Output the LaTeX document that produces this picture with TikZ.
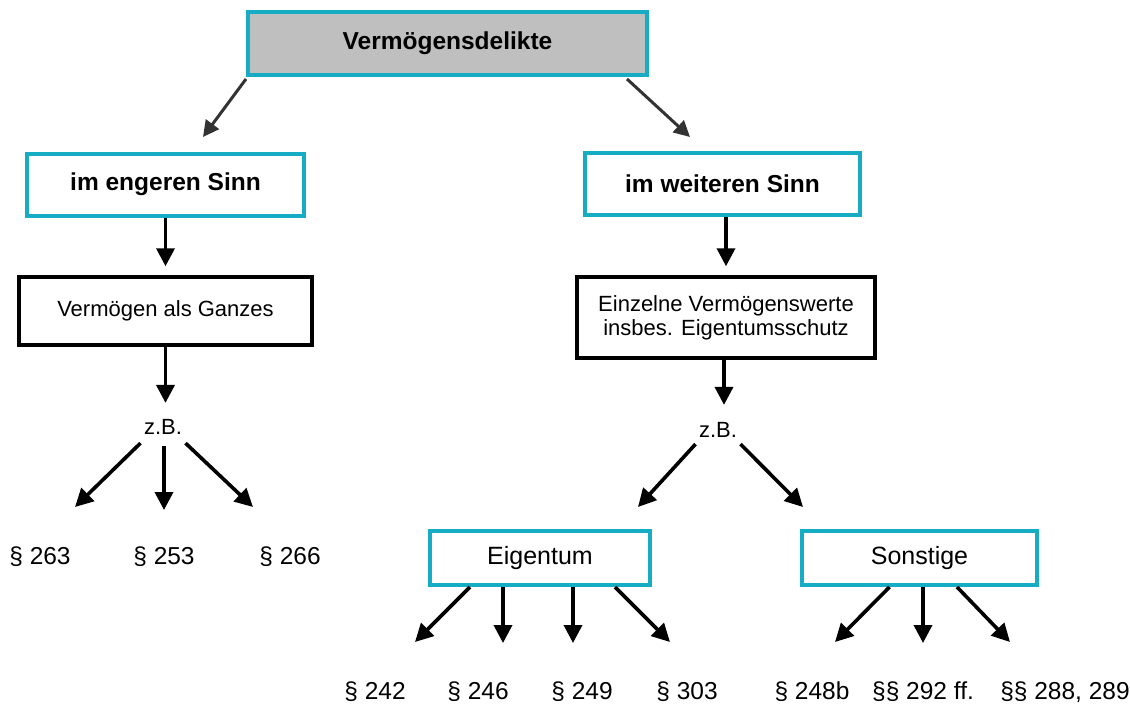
\documentclass[tikz,border=0pt]{standalone}
\usepackage{fontspec}
\setmainfont{Liberation Sans}
\usetikzlibrary{arrows.meta, positioning, calc}
\definecolor{rahmen}{RGB}{22,172,196}
\definecolor{kopfgrau}{RGB}{191,191,191}

\begin{document}
\begin{tikzpicture}[
    x=1pt, y=-1pt,
    kopf/.style={draw=rahmen, line width=4pt, fill=kopfgrau, minimum width=399pt, minimum height=63pt, font=\fontsize{24.5}{29}\selectfont\bfseries},
    sinn/.style={draw=rahmen, line width=4pt, minimum height=62pt, font=\fontsize{24.5}{29}\selectfont\bfseries},
    inhalt/.style={draw, line width=3.5pt, align=center, font=\fontsize{22}{24}\selectfont},
    gruppe/.style={draw=rahmen, line width=4pt, minimum height=54pt, font=\fontsize{25}{29}\selectfont},
    para/.style={font=\fontsize{24.5}{29}\selectfont},
    zb/.style={font=\fontsize{22}{26}\selectfont},
    arrow/.style={-{Triangle[length=18pt,width=18pt]}, line width=3.6pt},
    toparrow/.style={-{Triangle[length=16pt,width=16pt]}, line width=3pt, draw=black!80}
]
    \useasboundingbox (0,0) rectangle (1130,704);

    \node[kopf] (delikte) at (447.5,43.5) {Vermögensdelikte};
    \node[sinn, minimum width=277pt] (engeren) at (165.5,184.5) {im engeren Sinn};
    \node[sinn, minimum width=275pt] (weiteren) at (722.5,184) {im weiteren Sinn};

    \coordinate (tipeng) at (203,137);
    \coordinate (tipwei) at (690,137);
    \draw[toparrow] ([yshift=-2pt]delikte.south west) -- (tipeng);
    \draw[toparrow] ([xshift=-22pt,yshift=-2pt]delikte.south east) -- (tipwei);

    % linker Ast
    \node[inhalt, minimum width=293pt, minimum height=68pt] (ganzes) at (165.5,311) {Vermögen als Ganzes};
    \node[zb] (zbl) at (163,427) {z.B.};
    \draw[arrow, shorten >=9pt] (engeren) -- (ganzes);
    \draw[arrow, shorten >=13pt] (ganzes.south) -- (ganzes.south |- zbl.north);

    \node[para] (p263) at (40,557) {§ 263};
    \node[para] (p253) at (164,557) {§ 253};
    \node[para] (p266) at (290,557) {§ 266};
    \coordinate (t263) at (75,507);
    \coordinate (t253) at (164,510);
    \coordinate (t266) at (253,507);
    \draw[arrow] ([yshift=-5pt]zbl.south west) -- (t263);
    \draw[arrow] ([xshift=1pt,yshift=-8pt]zbl.south) -- (t253);
    \draw[arrow] ([yshift=-5pt]zbl.south east) -- (t266);

    % rechter Ast
    \node[inhalt, minimum width=298pt, minimum height=81pt] (einzeln) at (726,317.5) {Einzelne Vermögenswerte\\insbes. Eigentumsschutz};
    \node[zb] (zbr) at (718,430) {z.B.};
    \draw[arrow, shorten >=9pt] (einzeln.north |- weiteren.south) -- (einzeln.north);
    \draw[arrow, shorten >=14pt] ([xshift=-2pt]einzeln.south) -- ([xshift=-2pt]einzeln.south |- zbr.north);

    \node[gruppe, minimum width=220pt] (eigentum) at (540,558) {Eigentum};
    \node[gruppe, minimum width=235pt] (sonstige) at (919.5,558) {Sonstige};
    \coordinate (teig) at (638,507);
    \coordinate (tson) at (803,507);
    \draw[arrow] ([yshift=-3pt]zbr.south west) -- (teig);
    \draw[arrow] ([yshift=-3pt]zbr.south east) -- (tson);

    \node[para] (p242) at (375,692) {§ 242};
    \node[para] (p246) at (478,692) {§ 246};
    \node[para] (p249) at (582,692) {§ 249};
    \node[para] (p303) at (687,692) {§ 303};
    \coordinate (t242) at (415,642);
    \coordinate (t246) at (503,643);
    \coordinate (t249) at (573,643);
    \coordinate (t303) at (670,642);
    \draw[arrow] ([xshift=-70pt]eigentum.south) -- (t242);
    \draw[arrow] ([xshift=-37pt]eigentum.south) -- (t246);
    \draw[arrow] ([xshift=33pt]eigentum.south) -- (t249);
    \draw[arrow] ([xshift=75pt]eigentum.south) -- (t303);

    \node[para] (p248b) at (812,692) {§ 248b};
    \node[para] (p292) at (923,692) {§§ 292 ff.};
    \node[para] (p288) at (1065,692) {§§ 288, 289};
    \coordinate (t248b) at (835,642);
    \coordinate (t292) at (923,643);
    \coordinate (t288) at (1010,642);
    \draw[arrow] ([xshift=-30pt]sonstige.south) -- (t248b);
    \draw[arrow] ([xshift=3.5pt]sonstige.south) -- (t292);
    \draw[arrow] ([xshift=37.5pt]sonstige.south) -- (t288);
\end{tikzpicture}
\end{document}
